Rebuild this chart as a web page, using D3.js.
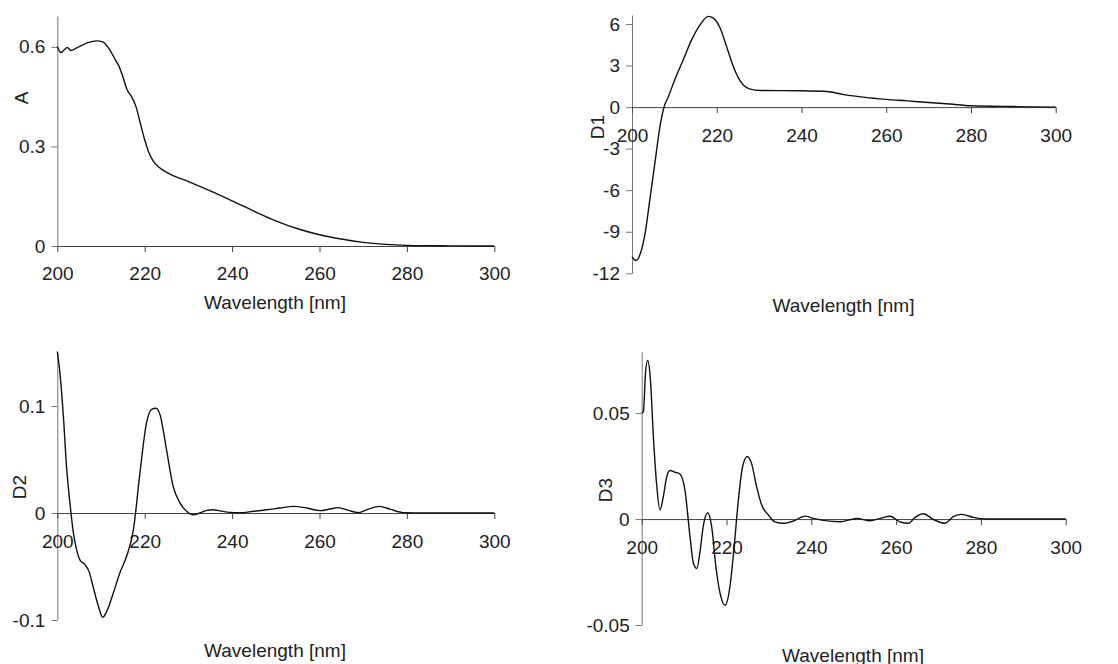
<!DOCTYPE html>
<html>
<head>
<meta charset="utf-8">
<script src="https://cdn.jsdelivr.net/npm/d3@7"></script>
<style>
  body { margin: 0; background: #fff; }
  svg text { font-family: "Liberation Sans", Arial, sans-serif; fill: #222; }
</style>
</head>
<body>
<div id="viz"></div>
<script>
// absorption spectrum and its derivatives
var wlA = [200, 200.8, 202.3, 203.1, 205, 207, 209, 210.5, 212, 213.3, 214, 215, 216, 217, 218, 219, 220, 221, 222, 223, 224, 226, 230, 235, 240, 245, 250, 255, 260, 265, 270, 275, 280, 290, 300];
var absA = [0.601, 0.583, 0.598, 0.589, 0.601, 0.613, 0.618, 0.614, 0.591, 0.561, 0.545, 0.51, 0.47, 0.45, 0.42, 0.37, 0.32, 0.28, 0.255, 0.24, 0.23, 0.215, 0.194, 0.166, 0.136, 0.105, 0.076, 0.052, 0.034, 0.021, 0.011, 0.005, 0.002, 0.0005, 0];

var wlD1 = [200, 200.9, 202, 203.1, 204.2, 205.4, 206.6, 207.6, 208.6, 210.1, 212.1, 214.1, 216.1, 218, 219.2, 220.8, 222.3, 223.9, 225.9, 227.9, 230.2, 240, 246, 250, 255, 260, 265, 270, 275, 280, 290, 300];
var valD1 = [-10.8, -11.08, -10.55, -9.1, -6.7, -4.05, -1.4, 0.05, 0.77, 1.98, 3.42, 4.87, 5.95, 6.55, 6.43, 5.71, 4.39, 2.94, 1.73, 1.3, 1.2, 1.18, 1.13, 0.9, 0.7, 0.56, 0.45, 0.33, 0.22, 0.1, 0.04, 0];

var wlD2 = [200, 200.6, 201.4, 202.1, 202.9, 203.7, 204.4, 205.2, 206.3, 207.3, 208.2, 209.4, 210.4, 211.3, 212.8, 214.3, 215.9, 217.4, 218.9, 220.4, 221.6, 222.6, 223.5, 225, 226.5, 228.1, 229.6, 231.1, 232.6, 234.2, 235.7, 237.2, 239.5, 241.8, 244.9, 247.9, 251, 254, 257.1, 260.1, 262.4, 264.3, 266.6, 268.9, 271.2, 273.8, 276.1, 279.2, 285, 300];
var valD2 = [0.151, 0.131, 0.09, 0.044, 0.009, -0.019, -0.034, -0.044, -0.048, -0.055, -0.069, -0.087, -0.0975, -0.092, -0.075, -0.056, -0.04, -0.016, 0.037, 0.084, 0.097, 0.098, 0.092, 0.059, 0.025, 0.0093, 0.0016, -0.0016, 0, 0.0025, 0.003, 0.002, 0.0006, 0.0003, 0.0016, 0.003, 0.0047, 0.0062, 0.0047, 0.0022, 0.0037, 0.005, 0.0025, 0.0003, 0.0037, 0.0062, 0.0037, 0.0003, 0, 0];

var wlD3 = [200, 200.4, 200.9, 201.4, 202, 202.8, 203.5, 204.3, 205.1, 205.9, 206.7, 207.9, 209, 210.2, 211.4, 212.2, 213, 213.8, 214.5, 215.6, 216.5, 217.5, 218.5, 219.7, 220.8, 221.8, 222.8, 223.8, 224.9, 225.9, 227.1, 228.3, 229.9, 231.4, 233.4, 235.8, 238.5, 240.5, 242.8, 246.8, 250.7, 253.9, 256.2, 258.6, 260.9, 262.9, 264.5, 266.4, 268.8, 271.5, 273.5, 275.5, 278.2, 281.4, 300];
var valD3 = [0.05, 0.0508, 0.069, 0.0749, 0.0673, 0.0374, 0.0169, 0.0043, 0.0106, 0.02, 0.0229, 0.0221, 0.0213, 0.0137, -0.0084, -0.021, -0.0233, -0.0147, -0.0036, 0.003, -0.0036, -0.0225, -0.0352, -0.0407, -0.032, -0.0131, 0.009, 0.0248, 0.0295, 0.0263, 0.0153, 0.0066, 0.0019, -0.0013, -0.002, -0.0009, 0.0014, 0.0003, -0.0006, -0.0013, 0.0003, -0.0008, 0.0003, 0.0013, -0.0013, -0.002, 0.0008, 0.0025, -0.0002, -0.002, 0.0011, 0.0022, 0.0008, 0, 0];

var xTicks = [200, 220, 240, 260, 280, 300];
var yTicksA = [0, 0.3, 0.6];
var yTicksD1 = [-12, -9, -6, -3, 0, 3, 6];
var yTicksD2 = [-0.1, 0, 0.1];
var yTicksD3 = [-0.05, 0, 0.05];

var fontSize = 19;

var panels = [
  { name: 'A',  xs: wlA,  ys: absA,  yTicks: yTicksA,  x0: 57.3,  x1: 494.3,  yDom: [0, 0.693],      yRange: [246, 16],     lab: [21, 98],   xLab: [275, 302] },
  { name: 'D1', xs: wlD1, ys: valD1, yTicks: yTicksD1, x0: 632,   x1: 1055.7, yDom: [-12, 6.65],     yRange: [273.3, 15],   lab: [597, 127], xLab: [843.5, 305] },
  { name: 'D2', xs: wlD2, ys: valD2, yTicks: yTicksD2, x0: 57.3,  x1: 494.3,  yDom: [-0.1, 0.1508],  yRange: [620, 351.7],  lab: [19, 487],  xLab: [275, 650] },
  { name: 'D3', xs: wlD3, ys: valD3, yTicks: yTicksD3, x0: 641.7, x1: 1065.7, yDom: [-0.05, 0.079],  yRange: [625, 351.7],  lab: [605, 490], xLab: [853, 655] }
];

var svg = d3.select("#viz")
  .append("svg")
  .attr("width", 1118)
  .attr("height", 664);

function fmt(d){
  return String(d);
}

panels.forEach(function(p){
  var x = d3.scaleLinear().domain([200, 300]).range([p.x0, p.x1]);
  var y = d3.scaleLinear().domain(p.yDom).range(p.yRange);
  var g = svg.append("g");

  // y axis
  var gy = g.append("g")
    .attr("transform", "translate(" + p.x0 + ",0)")
    .call(d3.axisLeft(y).tickValues(p.yTicks).tickFormat(fmt).tickSize(6).tickSizeOuter(0).tickPadding(6));
  gy.selectAll("path, line").attr("stroke", "#777");
  gy.selectAll("text").attr("font-size", fontSize).attr("fill", "#222")
    .style("font-family", '"Liberation Sans", Arial, sans-serif');

  // x axis at zero
  var gx = g.append("g")
    .attr("transform", "translate(0," + y(0) + ")")
    .call(d3.axisBottom(x).tickValues(xTicks).tickFormat(fmt).tickSize(6).tickSizeOuter(0).tickPadding(15));
  gx.selectAll("path, line").attr("stroke", "#444");
  gx.selectAll("text").attr("font-size", fontSize).attr("fill", "#222")
    .style("font-family", '"Liberation Sans", Arial, sans-serif');

  var line = d3.line()
    .x(function(d){ return x(d[0]); })
    .y(function(d){ return y(d[1]); })
    .curve(d3.curveMonotoneX);

  g.append("path")
    .datum(d3.zip(p.xs, p.ys))
    .attr("fill", "none")
    .attr("stroke", "#111")
    .attr("stroke-width", 1.4)
    .attr("d", line);

  g.append("text")
    .attr("transform", "translate(" + p.lab[0] + "," + p.lab[1] + ") rotate(-90)")
    .attr("text-anchor", "middle")
    .attr("dy", "0.35em")
    .attr("font-size", fontSize)
    .text(p.name);

  g.append("text")
    .attr("x", p.xLab[0])
    .attr("y", p.xLab[1])
    .attr("text-anchor", "middle")
    .attr("dy", "0.35em")
    .attr("font-size", fontSize)
    .text("Wavelength [nm]");
});
</script>
</body>
</html>
